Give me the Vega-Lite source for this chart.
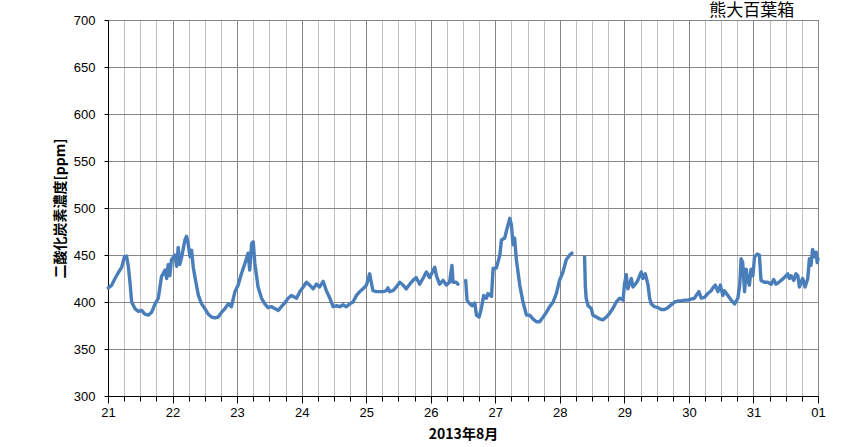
{
  "$schema": "https://vega.github.io/schema/vega-lite/v6.json",
  "width": 710,
  "height": 376,
  "autosize": "none",
  "padding": {"left": 108, "top": 20, "right": 45, "bottom": 51},
  "background": "white",
  "title": {"text": "熊大百葉箱", "anchor": "end", "fontSize": 17, "fontWeight": "normal", "font": "Noto Sans CJK JP", "color": "black", "dx": -31, "dy": 7, "offset": 1},
  "config": {
    "view": {"stroke": "black", "strokeWidth": 1},
    "axis": {"labelColor": "black", "titleColor": "black", "labelFont": "Liberation Sans", "labelFontSize": 13, "domainColor": "black", "tickColor": "black", "titleFont": "Noto Sans CJK JP", "titleFontWeight": "bold", "titleFontSize": 14}
  },
  "data": {"values": [
    {"h":0.1,"v":415,"s":1},{"h":1.4,"v":418,"s":1},{"h":2.6,"v":425,"s":1},{"h":3.8,"v":431,"s":1},{"h":5.1,"v":437,"s":1},{"h":6.1,"v":448,"s":1},{"h":6.9,"v":449,"s":1},{"h":7.6,"v":437,"s":1},{"h":8.2,"v":420,"s":1},{"h":8.8,"v":400,"s":1},{"h":10.0,"v":393,"s":1},{"h":11.3,"v":390,"s":1},{"h":12.5,"v":391,"s":1},{"h":13.7,"v":387,"s":1},{"h":15.0,"v":386,"s":1},{"h":16.2,"v":389,"s":1},{"h":17.5,"v":398,"s":1},{"h":18.7,"v":404,"s":1},{"h":19.9,"v":427,"s":1},{"h":21.2,"v":434,"s":1},{"h":21.8,"v":425,"s":1},{"h":22.4,"v":440,"s":1},{"h":23.0,"v":428,"s":1},{"h":23.6,"v":445,"s":1},{"h":24.9,"v":450,"s":1},{"h":25.5,"v":438,"s":1},{"h":26.1,"v":458,"s":1},{"h":26.7,"v":440,"s":1},{"h":27.4,"v":448,"s":1},{"h":28.6,"v":466,"s":1},{"h":29.2,"v":470,"s":1},{"h":29.8,"v":462,"s":1},{"h":30.5,"v":448,"s":1},{"h":31.1,"v":455,"s":1},{"h":31.7,"v":437,"s":1},{"h":32.3,"v":427,"s":1},{"h":33.6,"v":407,"s":1},{"h":34.8,"v":398,"s":1},{"h":36.0,"v":393,"s":1},{"h":37.3,"v":387,"s":1},{"h":38.5,"v":384,"s":1},{"h":39.7,"v":383,"s":1},{"h":41.0,"v":384,"s":1},{"h":42.2,"v":389,"s":1},{"h":43.5,"v":393,"s":1},{"h":44.7,"v":398,"s":1},{"h":45.9,"v":395,"s":1},{"h":47.2,"v":411,"s":1},{"h":48.4,"v":418,"s":1},{"h":49.6,"v":430,"s":1},{"h":50.9,"v":441,"s":1},{"h":52.1,"v":452,"s":1},{"h":52.7,"v":434,"s":1},{"h":53.4,"v":462,"s":1},{"h":54.0,"v":464,"s":1},{"h":54.6,"v":441,"s":1},{"h":55.8,"v":416,"s":1},{"h":57.1,"v":404,"s":1},{"h":58.3,"v":398,"s":1},{"h":59.5,"v":394,"s":1},{"h":60.8,"v":395,"s":1},{"h":62.0,"v":393,"s":1},{"h":63.3,"v":391,"s":1},{"h":64.5,"v":395,"s":1},{"h":65.7,"v":399,"s":1},{"h":67.0,"v":404,"s":1},{"h":68.2,"v":407,"s":1},{"h":70.1,"v":404,"s":1},{"h":71.3,"v":411,"s":1},{"h":72.6,"v":416,"s":1},{"h":73.8,"v":421,"s":1},{"h":75.0,"v":418,"s":1},{"h":76.3,"v":414,"s":1},{"h":77.5,"v":419,"s":1},{"h":78.7,"v":416,"s":1},{"h":80.0,"v":422,"s":1},{"h":81.2,"v":412,"s":1},{"h":82.5,"v":404,"s":1},{"h":83.7,"v":395,"s":1},{"h":84.9,"v":396,"s":1},{"h":86.2,"v":395,"s":1},{"h":87.4,"v":397,"s":1},{"h":88.6,"v":395,"s":1},{"h":89.9,"v":398,"s":1},{"h":91.1,"v":400,"s":1},{"h":92.4,"v":407,"s":1},{"h":93.6,"v":411,"s":1},{"h":94.8,"v":414,"s":1},{"h":96.1,"v":418,"s":1},{"h":97.3,"v":430,"s":1},{"h":97.9,"v":421,"s":1},{"h":98.5,"v":412,"s":1},{"h":99.8,"v":411,"s":1},{"h":101.0,"v":411,"s":1},{"h":102.3,"v":411,"s":1},{"h":103.5,"v":412,"s":1},{"h":104.1,"v":415,"s":1},{"h":104.7,"v":411,"s":1},{"h":106.0,"v":412,"s":1},{"h":107.2,"v":416,"s":1},{"h":108.5,"v":421,"s":1},{"h":109.7,"v":418,"s":1},{"h":110.9,"v":414,"s":1},{"h":112.2,"v":419,"s":1},{"h":113.4,"v":423,"s":1},{"h":114.6,"v":426,"s":1},{"h":115.9,"v":419,"s":1},{"h":117.1,"v":425,"s":1},{"h":118.4,"v":432,"s":1},{"h":119.6,"v":426,"s":1},{"h":120.8,"v":433,"s":1},{"h":121.5,"v":437,"s":1},{"h":122.1,"v":428,"s":1},{"h":123.3,"v":419,"s":1},{"h":124.6,"v":423,"s":1},{"h":125.8,"v":418,"s":1},{"h":127.0,"v":421,"s":1},{"h":127.9,"v":439,"s":1},{"h":128.3,"v":421,"s":1},{"h":129.5,"v":421,"s":1},{"h":130.1,"v":419,"s":1},
    {"h":133.0,"v":423,"s":2},{"h":133.5,"v":402,"s":2},{"h":134.5,"v":398,"s":2},{"h":135.5,"v":396,"s":2},{"h":136.4,"v":399,"s":2},{"h":137.0,"v":386,"s":2},{"h":138.0,"v":384,"s":2},{"h":138.8,"v":393,"s":2},{"h":139.7,"v":407,"s":2},{"h":140.7,"v":404,"s":2},{"h":141.3,"v":409,"s":2},{"h":142.6,"v":406,"s":2},{"h":143.2,"v":436,"s":2},{"h":144.4,"v":436,"s":2},{"h":145.7,"v":450,"s":2},{"h":146.3,"v":466,"s":2},{"h":147.5,"v":468,"s":2},{"h":148.1,"v":475,"s":2},{"h":149.4,"v":489,"s":2},{"h":150.0,"v":482,"s":2},{"h":150.6,"v":461,"s":2},{"h":151.2,"v":468,"s":2},{"h":151.8,"v":446,"s":2},{"h":153.1,"v":418,"s":2},{"h":154.3,"v":400,"s":2},{"h":155.6,"v":386,"s":2},{"h":156.8,"v":386,"s":2},{"h":158.0,"v":382,"s":2},{"h":159.3,"v":379,"s":2},{"h":160.5,"v":379,"s":2},{"h":161.8,"v":384,"s":2},{"h":163.0,"v":389,"s":2},{"h":164.2,"v":395,"s":2},{"h":165.5,"v":400,"s":2},{"h":166.7,"v":409,"s":2},{"h":167.9,"v":423,"s":2},{"h":169.2,"v":432,"s":2},{"h":170.4,"v":445,"s":2},{"h":171.7,"v":450,"s":2},{"h":172.5,"v":452,"s":2},
    {"h":177.2,"v":448,"s":3},{"h":177.5,"v":416,"s":3},{"h":177.8,"v":404,"s":3},{"h":178.5,"v":396,"s":3},{"h":179.7,"v":393,"s":3},{"h":180.3,"v":386,"s":3},{"h":181.6,"v":384,"s":3},{"h":182.8,"v":382,"s":3},{"h":184.0,"v":381,"s":3},{"h":185.3,"v":384,"s":3},{"h":186.5,"v":388,"s":3},{"h":187.7,"v":393,"s":3},{"h":189.0,"v":400,"s":3},{"h":190.2,"v":404,"s":3},{"h":191.5,"v":402,"s":3},{"h":192.1,"v":420,"s":3},{"h":192.7,"v":429,"s":3},{"h":193.3,"v":414,"s":3},{"h":194.6,"v":425,"s":3},{"h":195.2,"v":416,"s":3},{"h":196.4,"v":420,"s":3},{"h":197.0,"v":423,"s":3},{"h":198.3,"v":432,"s":3},{"h":198.9,"v":425,"s":3},{"h":199.8,"v":430,"s":3},{"h":200.8,"v":418,"s":3},{"h":201.4,"v":404,"s":3},{"h":202.0,"v":398,"s":3},{"h":203.2,"v":395,"s":3},{"h":204.5,"v":394,"s":3},{"h":205.7,"v":392,"s":3},{"h":206.9,"v":392,"s":3},{"h":208.2,"v":394,"s":3},{"h":209.4,"v":397,"s":3},{"h":210.7,"v":400,"s":3},{"h":211.9,"v":401,"s":3},{"h":213.1,"v":401,"s":3},{"h":214.4,"v":402,"s":3},{"h":215.6,"v":402,"s":3},{"h":216.8,"v":403,"s":3},{"h":218.1,"v":404,"s":3},{"h":218.7,"v":407,"s":3},{"h":219.7,"v":411,"s":3},{"h":220.6,"v":404,"s":3},{"h":221.8,"v":405,"s":3},{"h":223.0,"v":409,"s":3},{"h":224.3,"v":412,"s":3},{"h":224.9,"v":415,"s":3},{"h":225.8,"v":418,"s":3},{"h":226.8,"v":411,"s":3},{"h":227.7,"v":418,"s":3},{"h":228.6,"v":407,"s":3},{"h":229.2,"v":412,"s":3},{"h":230.5,"v":407,"s":3},{"h":231.7,"v":402,"s":3},{"h":233.0,"v":398,"s":3},{"h":234.2,"v":404,"s":3},{"h":234.9,"v":418,"s":3},{"h":235.4,"v":446,"s":3},{"h":236.0,"v":442,"s":3},{"h":236.7,"v":411,"s":3},{"h":237.3,"v":435,"s":3},{"h":237.9,"v":423,"s":3},{"h":238.5,"v":418,"s":3},{"h":239.1,"v":435,"s":3},{"h":239.8,"v":428,"s":3},{"h":240.4,"v":448,"s":3},{"h":241.4,"v":451,"s":3},{"h":242.2,"v":450,"s":3},{"h":242.8,"v":423,"s":3},{"h":244.1,"v":421,"s":3},{"h":245.3,"v":421,"s":3},{"h":246.6,"v":419,"s":3},{"h":247.5,"v":424,"s":3},{"h":248.4,"v":419,"s":3},{"h":249.0,"v":420,"s":3},{"h":250.3,"v":423,"s":3},{"h":251.5,"v":426,"s":3},{"h":252.7,"v":430,"s":3},{"h":253.4,"v":425,"s":3},{"h":254.0,"v":428,"s":3},{"h":255.0,"v":423,"s":3},{"h":255.8,"v":430,"s":3},{"h":256.5,"v":428,"s":3},{"h":257.1,"v":416,"s":3},{"h":257.7,"v":421,"s":3},{"h":258.3,"v":425,"s":3},{"h":259.2,"v":416,"s":3},{"h":260.2,"v":425,"s":3},{"h":260.8,"v":446,"s":3},{"h":261.4,"v":439,"s":3},{"h":262.0,"v":456,"s":3},{"h":262.7,"v":448,"s":3},{"h":263.3,"v":453,"s":3},{"h":263.7,"v":442,"s":3},{"h":264.0,"v":446,"s":3}
  ]},
  "mark": {"type": "line", "color": "#4a7ebb", "strokeWidth": 3.4, "strokeJoin": "round", "strokeCap": "round"},
  "encoding": {
    "x": {
      "field": "h", "type": "quantitative",
      "scale": {"domain": [0, 264], "nice": false, "zero": false},
      "axis": {
        "title": "2013年8月", "titlePadding": 8,
        "values": [0,6,12,18,24,30,36,42,48,54,60,66,72,78,84,90,96,102,108,114,120,126,132,138,144,150,156,162,168,174,180,186,192,198,204,210,216,222,228,234,240,246,252,258,264],
        "labelExpr": "datum.value % 24 == 0 ? (datum.value == 264 ? '01' : '' + (21 + datum.value / 24)) : ''",
        "labelPadding": 3, "labelFlush": false, "labelOverlap": false,
        "tickSize": {"condition": {"test": "datum.value % 24 == 0", "value": 7}, "value": 5},
        "grid": true,
        "gridColor": {"condition": {"test": "datum.value % 24 == 0", "value": "#868686"}, "value": "#c0c0c0"},
        "gridWidth": 1
      }
    },
    "y": {
      "field": "v", "type": "quantitative",
      "scale": {"domain": [300, 700], "nice": false, "zero": false},
      "axis": {
        "title": "二酸化炭素濃度[ppm]", "titlePadding": 6,
        "values": [300,350,400,450,500,550,600,650,700],
        "tickSize": 4, "labelPadding": 9,
        "grid": true, "gridColor": "#868686", "gridWidth": 1
      }
    },
    "detail": {"field": "s", "type": "nominal"}
  }
}
